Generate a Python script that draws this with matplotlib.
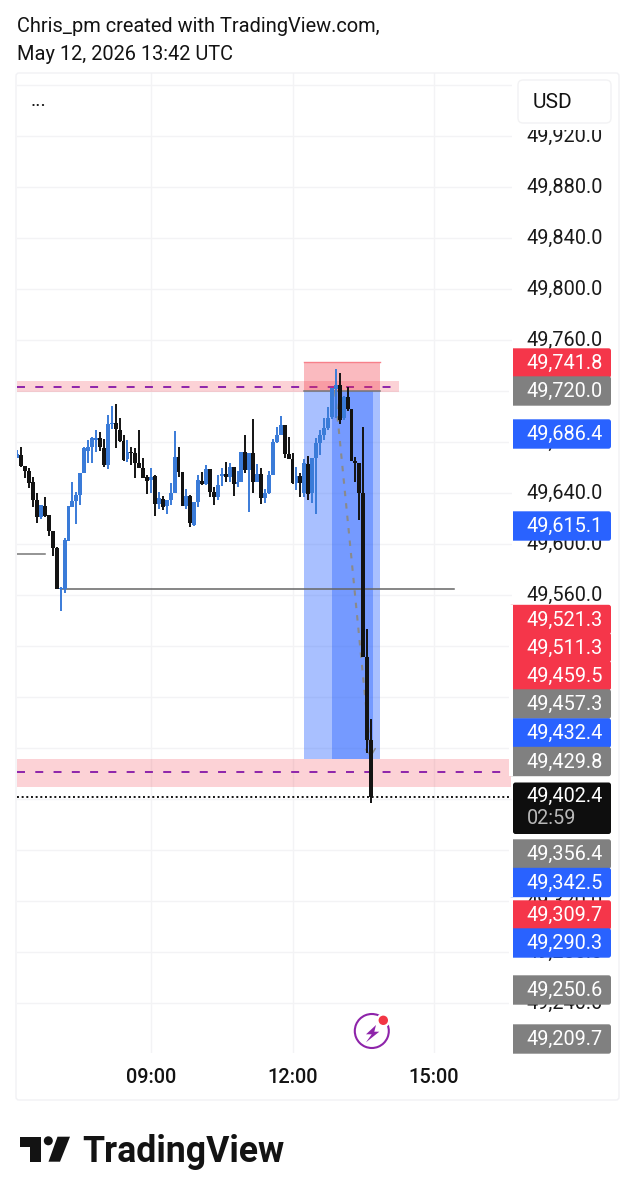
import matplotlib
matplotlib.use("Agg")
import matplotlib.pyplot as plt
import matplotlib.dates as mdates
from matplotlib.patches import Rectangle, FancyBboxPatch, Circle, Polygon, Arc
from matplotlib.ticker import FuncFormatter
from matplotlib.transforms import ScaledTranslation
import numpy as np
import pandas as pd

plt.rcParams["font.family"] = ["Roboto", "DejaVu Sans"]

W, H = 635, 1200

# 5 minute candles
opens = [49666.4, 49669.0, 49660.4, 49656.5, 49647.6, 49633.7, 49620.1, 49629.0, 49621.7, 49609.7,
         49595.8, 49563.9, 49563.9, 49601.8, 49628.5, 49633.2, 49637.7, 49655.2, 49672.4, 49675.0,
         49680.8, 49682.6, 49674.3, 49661.2, 49693.3, 49693.9, 49688.6, 49680.3, 49665.6, 49671.6,
         49670.3, 49663.0, 49659.1, 49651.5, 49649.4, 49652.6, 49630.6, 49634.8, 49629.0, 49633.7,
         49639.5, 49667.2, 49656.0, 49629.0, 49636.9, 49614.1, 49632.4, 49648.9, 49646.3, 49657.8,
         49640.3, 49636.4, 49652.6, 49654.1, 49652.1, 49659.9, 49646.3, 49648.1, 49671.7, 49657.3,
         49670.4, 49648.1, 49654.1, 49635.1, 49639.0, 49653.4, 49679.5, 49684.7, 49692.3, 49669.8,
         49665.6, 49647.3, 49652.6, 49639.0, 49662.0, 49639.0, 49666.4, 49678.7, 49684.7, 49690.0,
         49699.1, 49720.6, 49723.9, 49697.8, 49714.8, 49704.9, 49664.3, 49663.0, 49639.0, 49510.6,
         49445.5]
highs = [49673.0, 49675.0, 49660.4, 49658.6, 49651.5, 49639.5, 49629.8, 49635.8, 49621.7, 49609.7,
         49596.6, 49565.8, 49603.7, 49629.0, 49648.1, 49640.3, 49655.2, 49675.0, 49680.8, 49682.9,
         49688.6, 49687.3, 49681.3, 49700.4, 49707.5, 49709.0, 49697.8, 49684.7, 49680.8, 49675.0,
         49674.3, 49688.6, 49666.4, 49653.3, 49658.6, 49653.3, 49640.3, 49636.9, 49633.7, 49647.3,
         49687.9, 49675.0, 49656.0, 49642.1, 49637.7, 49632.4, 49653.3, 49655.9, 49661.2, 49657.8,
         49644.2, 49653.4, 49658.6, 49663.8, 49662.5, 49659.9, 49656.8, 49671.7, 49684.7, 49670.4,
         49697.3, 49662.0, 49658.6, 49642.1, 49656.8, 49681.3, 49690.7, 49699.9, 49692.6, 49682.9,
         49670.4, 49659.9, 49655.2, 49665.6, 49668.3, 49666.4, 49682.1, 49688.7, 49697.8, 49706.4,
         49721.3, 49736.5, 49733.6, 49715.3, 49722.6, 49704.9, 49667.7, 49663.0, 49691.3, 49532.5,
         49462.0]
lows = [49666.4, 49659.9, 49650.7, 49642.9, 49628.0, 49615.4, 49618.6, 49620.7, 49605.8, 49589.8,
        49563.9, 49546.9, 49560.5, 49601.8, 49628.0, 49614.9, 49629.8, 49655.2, 49662.5, 49662.5,
        49671.6, 49672.4, 49659.4, 49657.8, 49689.2, 49674.3, 49679.5, 49664.6, 49663.8, 49661.2,
        49650.7, 49658.6, 49650.7, 49638.4, 49639.0, 49621.5, 49626.4, 49625.9, 49622.8, 49629.8,
        49639.0, 49651.5, 49629.0, 49626.4, 49612.8, 49613.3, 49628.5, 49645.5, 49645.5, 49636.4,
        49630.1, 49633.8, 49644.7, 49648.1, 49648.1, 49637.2, 49644.2, 49648.1, 49654.7, 49624.1,
        49639.5, 49648.1, 49630.6, 49631.1, 49638.5, 49653.4, 49678.7, 49684.7, 49666.4, 49665.6,
        49646.3, 49641.6, 49635.8, 49636.4, 49633.8, 49631.7, 49622.8, 49669.0, 49680.8, 49688.7,
        49697.0, 49697.8, 49693.4, 49696.5, 49703.8, 49664.3, 49647.6, 49618.1, 49510.6, 49435.3,
        49396.3]
closes = [49669.8, 49660.4, 49656.7, 49647.3, 49633.7, 49620.1, 49629.8, 49621.2, 49609.7, 49595.8,
          49563.9, 49565.0, 49602.4, 49629.0, 49633.2, 49637.7, 49655.2, 49674.3, 49675.0, 49682.1,
          49682.6, 49675.0, 49661.2, 49693.3, 49694.4, 49689.2, 49680.3, 49665.1, 49671.6, 49670.3,
          49662.5, 49659.1, 49651.3, 49648.9, 49651.5, 49630.6, 49635.0, 49628.5, 49633.7, 49639.5,
          49667.2, 49656.0, 49629.0, 49636.9, 49615.4, 49632.4, 49649.4, 49646.0, 49657.8, 49640.3,
          49636.4, 49645.5, 49654.1, 49651.5, 49659.9, 49646.3, 49648.1, 49671.7, 49657.3, 49670.4,
          49648.1, 49654.1, 49635.1, 49639.0, 49653.4, 49679.5, 49684.7, 49692.3, 49669.8, 49665.6,
          49646.8, 49652.6, 49647.3, 49662.5, 49638.5, 49666.4, 49678.7, 49684.7, 49690.0, 49697.8,
          49721.3, 49723.9, 49696.5, 49714.8, 49704.9, 49664.3, 49662.5, 49639.0, 49510.6, 49445.5,
          49400.8]

# the candle values were read against a grid 1 px off
READ_OFFSET = 0.8

price_ticks = list(range(49240, 49961, 40))
time_ticks = ["2026-05-12 09:00", "2026-05-12 12:00", "2026-05-12 15:00"]

# price tags on the right: text, colour, centre pixel
tag_texts = ["49,741.8", "49,720.0", "49,686.4", "49,615.1", "49,521.3", "49,511.3", "49,459.5",
             "49,457.3", "49,432.4", "49,429.8", "49,356.4", "49,342.5", "49,309.7", "49,290.3",
             "49,250.6", "49,209.7"]
tag_colors = ["red", "gray", "blue", "blue", "red", "red", "red",
              "gray", "blue", "gray", "gray", "blue", "red", "blue",
              "gray", "gray"]
tag_centers = [363, 391, 434, 526, 619.5, 647.5, 675.5, 704, 733, 761.5, 854, 882.5, 915, 943, 990, 1039]

PALETTE = {"red": "#f5364a", "gray": "#808080", "blue": "#2962ff"}
CANDLE_UP = "#3a7bd8"
CANDLE_DOWN = "#131313"
PURPLE = "#8e24aa"


def t(stamp):
    return mdates.date2num(pd.Timestamp("2026-05-12 " + stamp))


fig = plt.figure(figsize=(W / 100, H / 100), dpi=100, facecolor="white")

# main pane: x 17..512, y 73..1053 px
ax = fig.add_axes([17 / W, 1 - 1053 / H, 495 / W, 980 / H])
ax.set_ylim(49200.8, 49969.4)
ax.set_xlim(t("06:09:30"), t("16:39:10"))
for s in ax.spines.values():
    s.set_visible(False)
ax.set_axisbelow(True)
ax.grid(color="#f3f3f5", lw=1.0)
ax.yaxis.tick_right()
ax.set_yticks(price_ticks)
ax.yaxis.set_major_formatter(FuncFormatter(lambda v, _: f"{v:,.1f}"))
ax.set_xticks([mdates.date2num(pd.Timestamp(s)) for s in time_ticks])
ax.xaxis.set_major_formatter(mdates.DateFormatter("%H:%M"))
ax.tick_params(axis="y", length=0, pad=10.1, labelsize=14.3, labelcolor="#1a1a1a")
ax.tick_params(axis="x", length=0, pad=10.5, labelsize=14.4, labelcolor="#131313")
for lab in ax.get_xticklabels():
    lab.set_fontweight("medium")
# labels sit a little above their grid line
up = ScaledTranslation(0, 2 / 100, fig.dpi_scale_trans)
for tick in ax.yaxis.get_major_ticks():
    tick.label2.set_transform(tick.label2.get_transform() + up)

# zones
ax.add_patch(Rectangle((t("06:09:30"), 49719.2), t("14:15:30") - t("06:09:30"), 8.7,
                       fc="#f23645", alpha=0.22, lw=0, zorder=1))
ax.add_patch(Rectangle((t("06:09:30"), 49409.4), t("16:38:00") - t("06:09:30"), 22.0,
                       fc="#f23645", alpha=0.22, lw=0, zorder=1))
ax.plot([t("06:09:30"), t("14:15:30")], [49723.4, 49723.4], color=PURPLE, lw=1.4,
        dashes=(4.1, 5.3), zorder=2)
ax.plot([t("06:09:30"), t("16:38:00")], [49420.8, 49420.8], color=PURPLE, lw=1.4,
        dashes=(4.1, 5.3), zorder=2)

# short position tool
ax.add_patch(Rectangle((t("12:14:30"), 49720.3), t("13:51:20") - t("12:14:30"), 22.3,
                       fc="#f23645", alpha=0.34, lw=0, zorder=2))
ax.plot([t("12:14:30"), t("13:51:20")], [49742.6, 49742.6], color="#f7808a", lw=1.0, zorder=2)
ax.add_patch(Rectangle((t("12:14:30"), 49431.4), t("13:51:20") - t("12:14:30"), 288.9,
                       fc="#2962ff", alpha=0.4, lw=0, zorder=2))
ax.add_patch(Rectangle((t("12:50:10"), 49431.4), t("13:42:20") - t("12:50:10"), 288.9,
                       fc="#2962ff", alpha=0.4, lw=0, zorder=2))
ax.plot([t("12:14:30"), t("13:51:20")], [49720.3, 49720.3], color="#777777", lw=1.1, zorder=2)
ax.plot([t("12:54:00"), t("13:39:50")], [49719.8, 49432.8], color="#8a8a8a", lw=1.5,
        dashes=(2.6, 3.4), zorder=3)
ax.annotate("", xy=(t("13:39:50"), 49432.8), xytext=(t("13:39:20"), 49436.8),
            arrowprops=dict(arrowstyle="->,head_length=0.5,head_width=0.35", color="#8a8a8a",
                            lw=1.1, shrinkA=0, shrinkB=0), zorder=3)

# horizontal lines
ax.plot([t("07:05"), t("15:25")], [49564.8, 49564.8], color="#666666", lw=1.1, zorder=3)
ax.plot([t("06:09:30"), t("06:45")], [49592.4, 49592.4], color="#777777", lw=1.1, zorder=3)

# candles
o = np.array(opens) + READ_OFFSET
h = np.array(highs) + READ_OFFSET
l = np.array(lows) + READ_OFFSET
c = np.array(closes) + READ_OFFSET
times = pd.date_range("2026-05-12 06:10", periods=len(o), freq="5min")
xs = mdates.date2num(times)
px_day = 24 * 47.17
colors = [CANDLE_UP if b >= a else CANDLE_DOWN for a, b in zip(o, c)]
ax.vlines(xs, l, h, colors=colors, lw=1.4, zorder=4)
ax.bar(xs, np.abs(c - o), bottom=np.minimum(o, c), width=3.9 / px_day, color=colors, lw=0, zorder=4)

# last price line
ax.plot([t("06:09:30"), t("16:38:00")], [c[-1], c[-1]], color="#131313", lw=1.4,
        dashes=(1, 1.4), zorder=5)

# overlay in pixels for the page furniture
ov = fig.add_axes([0, 0, 1, 1], facecolor="none")
ov.set_xlim(0, W)
ov.set_ylim(H, 0)
ov.axis("off")

ov.text(17, 27, "Chris_pm created with TradingView.com,", fontsize=14.4, color="#131313", va="center")
ov.text(17, 54, "May 12, 2026 13:42 UTC", fontsize=14.4, color="#131313", va="center")
ov.text(30.5, 106, "...", fontsize=14, color="#131313", va="baseline")

# outer frame
ov.add_patch(FancyBboxPatch((16, 73), 603, 1027, boxstyle="round,pad=0,rounding_size=3",
                            fc="none", ec="#f1f1f4", lw=1.0))

# USD button
ov.add_patch(Rectangle((514, 75), 100, 54.5, fc="white", ec="none"))
ov.add_patch(FancyBboxPatch((518, 80), 93, 43, boxstyle="round,pad=0,rounding_size=5",
                            fc="white", ec="#f2f2f4", lw=1.0))
ov.text(533, 102, "USD", fontsize=15, color="#131313", va="center")

# price tags, slightly taller than the stack spacing so no axis label shows through
for txt, col, cy in zip(tag_texts, tag_colors, tag_centers):
    ov.add_patch(FancyBboxPatch((509, cy - 14.7), 102, 29.4, boxstyle="round,pad=0,rounding_size=2.5",
                                fc=PALETTE[col], ec="none", zorder=3))
    ov.add_patch(Rectangle((509, cy - 14.7), 4, 29.4, fc="white", ec="none", zorder=3.5))
    ov.text(526.5, cy + 0.5, txt, fontsize=14.3, color="white", va="center", zorder=4)
ov.add_patch(FancyBboxPatch((513, 782.5), 98, 51.5, boxstyle="round,pad=0,rounding_size=2.5",
                            fc="#0e0e0e", ec="none", zorder=3))
ov.text(526.5, 796, "49,402.4", fontsize=14.3, color="white", va="center", zorder=4)
ov.text(526.5, 819, "02:59", fontsize=14.3, color="#b8b8b8", va="center", zorder=4)

# bolt icon
ov.add_patch(Arc((371.8, 1031), 34, 34, theta1=0, theta2=360, ec=PURPLE, lw=1.5))
ov.add_patch(Polygon([(376, 1025), (366, 1034.3), (371.7, 1034.3), (366, 1042.3),
                      (379.3, 1031.7), (374.3, 1031.7)], closed=True, fc=PURPLE, ec="none"))
ov.add_patch(Circle((383.3, 1020.3), 7, fc="white", ec="none"))
ov.add_patch(Circle((383.3, 1020.3), 4.7, fc="#f23645", ec="none"))

# TradingView logo
ov.add_patch(Polygon([(20, 1136.7), (40.7, 1136.7), (40.7, 1161.7), (30, 1161.7), (30, 1146.7), (20, 1146.7)],
                     closed=True, fc="#131313", ec="none"))
ov.add_patch(Circle((48.3, 1140.8), 4.5, fc="#131313", ec="none"))
ov.add_patch(Polygon([(57.5, 1136.7), (70, 1136.7), (60, 1161.7), (48.5, 1161.7)], closed=True,
                     fc="#131313", ec="none"))
ov.text(82, 1161.7, "TradingView", fontsize=25.7, fontweight="bold",
        color="#131313", va="baseline")

fig.savefig("out.png", dpi=100)
